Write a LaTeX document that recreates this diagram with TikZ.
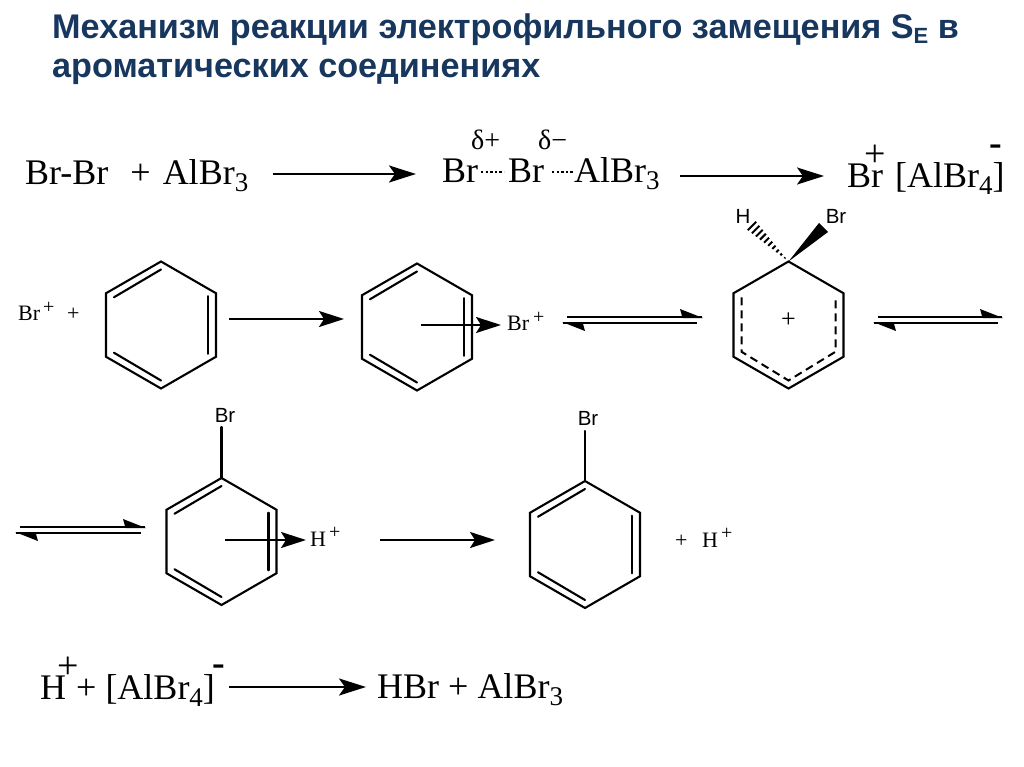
\documentclass[tikz,border=0pt]{standalone}
\usepackage{fontspec}
\setmainfont{Liberation Serif}
\newfontfamily\arialf{Liberation Sans}
\usetikzlibrary{arrows.meta,calc}
\definecolor{titleblue}{HTML}{17375E}
\tikzset{
  bondline/.style={line width=2.1pt,line cap=round,line join=miter},
  innerdash/.style={line width=2pt,dash pattern=on 8pt off 5pt},
  rxn/.style={line width=2pt,-{Stealth[length=25pt,width=16pt,inset=5pt]}},
  rxnbig/.style={line width=2.5pt,-{Stealth[length=27pt,width=17pt,inset=6pt]}},
  eqline/.style={line width=2pt},
  chem/.style={inner sep=0pt,anchor=base west,font=\fontsize{36}{36}\selectfont},
  chemm/.style={inner sep=0pt,anchor=base west,font=\fontsize{22}{22}\selectfont},
  supp/.style={inner sep=0pt,anchor=base west,font=\fontsize{20}{20}\selectfont},
  deltaa/.style={inner sep=0pt,anchor=base west,font=\fontsize{28}{28}\selectfont},
  chembold/.style={inner sep=0pt,anchor=base west,font=\bfseries\fontsize{38}{38}\selectfont},
  chemplus/.style={inner sep=0pt,anchor=center,font=\fontsize{38}{38}\selectfont},
  label/.style={inner sep=0pt,anchor=base,font=\arialf\fontsize{20.5}{20.5}\selectfont},
  ttl/.style={inner sep=0pt,anchor=base west,text=titleblue,font=\arialf\bfseries\fontsize{34.2}{34.2}\selectfont}
}
\newcommand{\subn}[1]{\raisebox{-7pt}{\fontsize{27}{27}\selectfont #1}}
\newcommand{\hexdef}[3]{%
  \coordinate (#1t) at ($(#2,#3)+(0,-63.5)$);
  \coordinate (#1tr) at ($(#2,#3)+(55,-31.75)$);
  \coordinate (#1br) at ($(#2,#3)+(55,31.75)$);
  \coordinate (#1b) at ($(#2,#3)+(0,63.5)$);
  \coordinate (#1bl) at ($(#2,#3)+(-55,31.75)$);
  \coordinate (#1tl) at ($(#2,#3)+(-55,-31.75)$);
  \draw[bondline] (#1t)--(#1tr)--(#1br)--(#1b)--(#1bl)--(#1tl)--cycle;
}
\newcommand{\benz}[3]{%
  \hexdef{#1}{#2}{#3}
  \draw[bondline] ($(#1t)+(0,8)$) -- ($(#1tl)+(8,4)$);
  \draw[bondline] ($(#1tr)+(-8,3)$) -- ($(#1br)+(-8,-3)$);
  \draw[bondline] ($(#1b)+(0,-8)$) -- ($(#1bl)+(8,-4)$);
}
\newcommand{\halfeq}[6]{%
  \coordinate (#1u1) at (#2,#6-3);
  \coordinate (#1u2) at (#3,#6-3);
  \coordinate (#1l1) at (#4,#6+3);
  \coordinate (#1l2) at (#5,#6+3);
  \draw[eqline] (#1u1)--(#1u2);
  \draw[eqline] (#1l1)--(#1l2);
  \fill ($(#1u2)+(1,1)$) -- ++(-23,-9) -- ++(2.5,9) -- cycle;
  \fill ($(#1l1)+(-1,-1)$) -- ++(23,9) -- ++(-2.5,-9) -- cycle;
}
\begin{document}
\begin{tikzpicture}[x=1pt,y=-1pt]
\useasboundingbox (0,0) rectangle (1024,767);
\fill[white] (0,0) rectangle (1024,767);
\node[ttl] (t1) at (52,39) {Механизм реакции электрофильного замещения S\raisebox{-5pt}{\fontsize{22}{22}\selectfont E} в};
\node[ttl] (t2) at (52,78) {ароматических соединениях};
% row 1
\node[chem] (r1a) at (25,185) {Br-Br\hspace{13pt} + \hspace{3pt}AlBr\subn{3}};
\coordinate (a1s) at (273,174); \coordinate (a1e) at (416,174);
\draw[rxnbig] (a1s)--(a1e);
\node[deltaa] (d1) at (471,150) {δ+};
\node[deltaa] (d2) at (538,150) {δ−};
\node[chem] (br1) at (442,183) {Br};
\node[chem] (br2) at (508,183) {Br};
\node[chem] (al1) at (574,183) {AlBr\subn{3}};
\coordinate (dot1s) at (481,172); \coordinate (dot1e) at (504,172);
\coordinate (dot2s) at (552,172); \coordinate (dot2e) at (574,172);
\draw[line width=2.2pt,dash pattern=on 2.4pt off 2.2pt] (dot1s)--(dot1e);
\draw[line width=2.2pt,dash pattern=on 2.4pt off 2.2pt] (dot2s)--(dot2e);
\coordinate (a2s) at (680,176); \coordinate (a2e) at (824,176);
\draw[rxnbig] (a2s)--(a2e);
\node[chem] (br3) at (847,188) {Br};
\node[chemplus] (plus1) at (875,156) {+};
\node[chem] (alb4) at (895,188) {[AlBr\subn{4}]};
\node[chembold] (minus1) at (989,156) {-};
% row 2
\node[chemm] (br4) at (18,320) {Br};
\node[supp] (p4) at (43,313) {+};
\node[chemm] (p5) at (67,320) {+};
\benz{A}{161}{325}
\coordinate (a3s) at (229,319); \coordinate (a3e) at (344,319);
\draw[rxn] (a3s)--(a3e);
\benz{B}{417}{327}
\node[chemm] (br5) at (507,330) {Br};
\node[supp] (p6) at (533,323) {+};
\coordinate (a4s) at (421,325); \coordinate (a4e) at (501,325);
\draw[rxn] (a4s)--(a4e);
\halfeq{E}{567}{702}{563}{697}{320}
\hexdef{C}{788.5}{325}
\draw[innerdash] ($(Ctl)+(8,4)$) -- ($(Cbl)+(8,-5)$) -- ($(Cb)+(0,-8)$) -- ($(Cbr)+(-8,-5)$) -- ($(Ctr)+(-8,4)$);
\node[chemm,anchor=center,font=\fontsize{26}{26}\selectfont] (cplus) at (788.5,320) {+};
\node[label] (Hl) at (743,224) {H};
\node[label] (Brl) at (836,224) {Br};
\coordinate (wedge1) at (819,223);
\coordinate (wedge2) at (828,232);
\coordinate (hashe) at (752,226);
\fill (Ct) -- (wedge1) -- (wedge2) -- cycle;
\foreach \f in {0.10,0.20,...,1.0}{
  \draw[line width=2pt] ($(Ct)!\f!(hashe)+({-\f*6*0.7},{\f*6*0.7})$) -- ($(Ct)!\f!(hashe)+({\f*6*0.7},{-\f*6*0.7})$);
}
\halfeq{F}{878}{1002}{874}{998}{320}
% row 3
\halfeq{G}{20}{145}{16}{141}{530}
\benz{D}{221.5}{541.5}
\node[label] (brd) at (225,422) {Br};
\draw[bondline] (Dt) -- (221.5,427);
\coordinate (a5s) at (225,540); \coordinate (a5e) at (306,540);
\node[chemm] (h1) at (310,546) {H};
\node[supp] (p7) at (329,538) {+};
\draw[rxn] (a5s)--(a5e);
\coordinate (a6s) at (380,540); \coordinate (a6e) at (495,540);
\draw[rxn] (a6s)--(a6e);
\benz{K}{585}{544.5}
\node[label] (bre) at (588,425) {Br};
\draw[bondline] (Kt) -- (585,431);
\node[chemm] (p8) at (675,547) {+};
\node[chemm] (h2) at (702,547) {H};
\node[supp] (p9) at (721,539) {+};
% row 4
\node[chem] (h3) at (40,699) {H};
\node[chemplus] (p10) at (68,668) {+};
\node[chem] (rest) at (76,699) {+ [AlBr\subn{4}]};
\node[chembold] (m2) at (212,675) {-};
\coordinate (a7s) at (229,687); \coordinate (a7e) at (366,687);
\draw[rxnbig] (a7s)--(a7e);
\node[chem] (prod) at (377,698) {HBr + AlBr\subn{3}};
\end{tikzpicture}
\end{document}
